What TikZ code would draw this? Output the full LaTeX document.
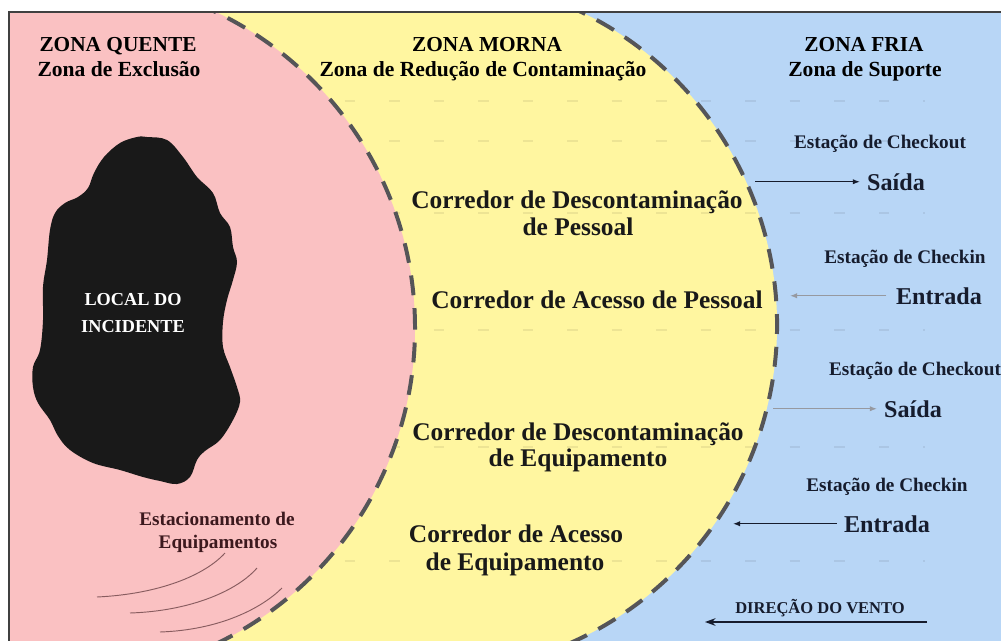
\documentclass[tikz,border=0pt]{standalone}
\usepackage{fontspec}
\setmainfont{Liberation Serif}
\usetikzlibrary{arrows.meta, positioning}
\definecolor{hotzone}{RGB}{250,193,194}
\definecolor{warmzone}{RGB}{255,246,160}
\definecolor{coldzone}{RGB}{184,214,246}
\definecolor{borderink}{RGB}{85,85,88}
\definecolor{navyink}{RGB}{22,28,45}
\definecolor{maroonink}{RGB}{60,25,30}
\tikzstyle{zonetitle} = [font=\fontsize{18.2}{22}\selectfont\bfseries, anchor=base, inner sep=0pt]
\tikzstyle{zonesub} = [font=\fontsize{18.4}{22}\selectfont\bfseries, anchor=base, inner sep=0pt]
\tikzstyle{corridor} = [font=\fontsize{21.7}{26}\selectfont\bfseries, anchor=base, inner sep=0pt, text=black!90]
\tikzstyle{station} = [font=\fontsize{16.4}{20}\selectfont\bfseries, anchor=base, inner sep=0pt, text=navyink]
\tikzstyle{gate} = [font=\fontsize{20.6}{24}\selectfont\bfseries, anchor=base, inner sep=0pt, text=navyink]
\tikzstyle{sitelabel} = [font=\fontsize{15.6}{19}\selectfont\bfseries, anchor=base, inner sep=0pt, text=white]
\tikzstyle{parking} = [font=\fontsize{16.4}{20}\selectfont\bfseries, anchor=base, inner sep=0pt, text=maroonink]
\tikzstyle{windlabel} = [font=\fontsize{14.1}{17}\selectfont\bfseries, anchor=base, inner sep=0pt, text=navyink]
\tikzstyle{zoneline} = [line width=3.4pt, draw=borderink, dash pattern=on 17pt off 11pt]
\tikzstyle{lane} = [line width=1.5pt, draw=black, opacity=0.07, dash pattern=on 9pt off 29pt]
\tikzstyle{track} = [line width=0.8pt, draw=maroonink, opacity=0.6]
\tikzstyle{arrow} = [line width=1pt, draw=navyink, -{Latex[length=6pt,width=4.5pt]}]
\tikzstyle{faint} = [draw=navyink!45]
\tikzstyle{windarrow} = [line width=1.3pt, draw=navyink, -{Stealth[length=9pt,width=6.5pt]}]

\begin{document}
\begin{tikzpicture}[x=0.03cm, y=-0.03cm]
    \useasboundingbox (0,0) rectangle (1001,641);
    \fill[white] (0,0) rectangle (1001,641);
    % zones
    \fill[coldzone] (9,12) rectangle (1001,641);
    \begin{scope}
        \clip (9,12) rectangle (1001,641);
        \fill[warmzone] (0,-6) -- (536.5,-6) arc[start angle=72, end angle=-72, radius=10.44cm] -- (0,656) -- cycle;
        \foreach \y in {101,141,213,330,447,561}
            \draw[lane] (300,\y) -- (925,\y);
        \fill[hotzone] (65,328) circle[radius=10.5cm];
        \draw[zoneline] (65,328) circle[radius=10.5cm];
        \draw[zoneline] (536.5,-6) arc[start angle=72, end angle=-72, radius=10.44cm];
    \end{scope}
    \draw[line width=1.5pt, black!75] (9,641) -- (9,12) -- (1001,12);

    % incident site
    \fill[black!90] plot[smooth cycle, tension=0.6] coordinates {(147,137) (167,140) (183,157) (197,177) (213,193) (220,213) (230,227) (233,247) (237,262) (233,280) (227,300) (223,322) (223,347) (230,367) (237,387) (240,402) (233,420) (220,440) (205,451) (197,460) (190,477) (177,484) (160,481) (143,477) (120,470) (93,463) (70,450) (58,436) (50,420) (38,403) (33,387) (33,367) (40,350) (43,320) (43,287) (47,260) (50,230) (55,213) (65,203) (78,197) (88,188) (94,173) (104,157) (120,143) (137,137)};
    \node (site1) [sitelabel] at (133,305) {LOCAL DO};
    \node (site2) [sitelabel] at (133,332) {INCIDENTE};

    % equipment parking
    \node (park1) [parking] at (217,525) {Estacionamento de};
    \node (park2) [parking] at (218,548) {Equipamentos};
    \draw[track] (97,597) .. controls (160,594) and (205,575) .. (225,553);
    \draw[track] (130,613) .. controls (192,611) and (238,590) .. (257,568);
    \draw[track] (160,632) .. controls (220,630) and (262,608) .. (282,588);

    % zone titles
    \node (hotT) [zonetitle] at (118,51) {ZONA QUENTE};
    \node (hotS) [zonesub] at (119,76) {Zona de Exclusão};
    \node (warmT) [zonetitle] at (487,51) {ZONA MORNA};
    \node (warmS) [zonesub] at (483,76) {Zona de Redução de Contaminação};
    \node (coldT) [zonetitle] at (864,51) {ZONA FRIA};
    \node (coldS) [zonesub] at (865,76) {Zona de Suporte};

    % corridors
    \node (decon1) [corridor] at (577,208) {Corredor de Descontaminação};
    \node (decon1b) [corridor] at (578,235) {de Pessoal};
    \node (access1) [corridor] at (597,308) {Corredor de Acesso de Pessoal};
    \node (decon2) [corridor] at (578,440) {Corredor de Descontaminação};
    \node (decon2b) [corridor] at (578,466) {de Equipamento};
    \node (access2) [corridor] at (516,542) {Corredor de Acesso};
    \node (access2b) [corridor] at (515,570) {de Equipamento};

    % stations
    \node (checkout1) [station] at (880,148) {Estação de Checkout};
    \node (exit1) [gate] at (896,190) {Saída};
    \node (checkin1) [station] at (905,263) {Estação de Checkin};
    \node (entry1) [gate] at (939,304) {Entrada};
    \node (checkout2) [station] at (915,375) {Estação de Checkout};
    \node (exit2) [gate] at (913,417) {Saída};
    \node (checkin2) [station] at (887,491) {Estação de Checkin};
    \node (entry2) [gate] at (887,532) {Entrada};
    \node (wind) [windlabel] at (820,613) {DIREÇÃO DO VENTO};

    \coordinate (exit1from) at (755,0);
    \coordinate (entry1to) at (790,0);
    \coordinate (exit2from) at (773,0);
    \coordinate (entry2to) at (733,0);
    \coordinate (windfrom) at (927,622);
    \coordinate (windto) at (705,622);

    \draw [arrow, shorten >=6pt] (exit1from |- exit1.west) -- (exit1.west);
    \draw [arrow, faint, shorten <=8pt] (entry1.west) -- (entry1to |- entry1.west);
    \draw [arrow, faint, shorten >=6pt] (exit2from |- exit2.west) -- (exit2.west);
    \draw [arrow, shorten <=6pt] (entry2.west) -- (entry2to |- entry2.west);
    \draw [windarrow] (windfrom) -- (windto);
\end{tikzpicture}
\end{document}
